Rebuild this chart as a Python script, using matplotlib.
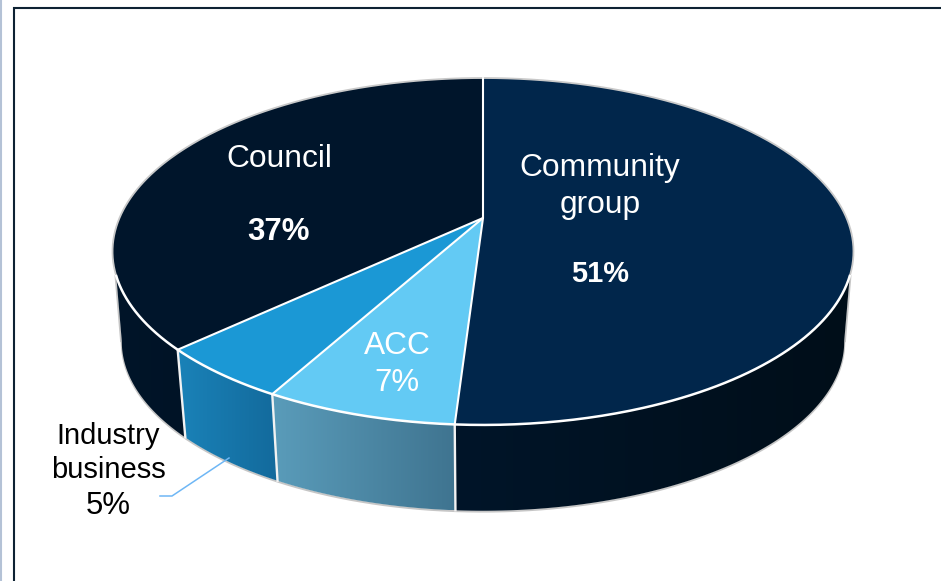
import matplotlib
matplotlib.use("Agg")
import matplotlib.pyplot as plt
from matplotlib.colors import to_rgb
from matplotlib.patches import Polygon
import numpy as np

plt.rcParams['font.family'] = ['Liberation Sans', 'DejaVu Sans']

categories = ["Community group", "ACC", "Industry business", "Council"]
shares = [51, 7, 5, 37]

top_colors = ["#01264b", "#63caf4", "#1b98d5", "#00152b"]
side_left = ["#001529", "#5a9cba", "#1a82b8", "#001529"]
side_right = ["#000e19", "#3f7490", "#136a9c", "#001326"]

# perspective of the disc, in pixels
CX, CY = 483, 218
RX, RY = 363.5, 167
TILT = 0.193
DROP = 91
SHRINK = 0.975

# where the wall leaves the top rim and meets the lower rim
TOP_FROM, TOP_TO = 109, 251
LOW_FROM, LOW_TO = 101, 259


def rim(deg, lower=False):
    # deg runs clockwise from 12 o'clock
    a = np.radians(deg)
    w = 1 + TILT * np.cos(a)
    x = RX * np.sin(a) / w
    y = -RY * np.cos(a) / w
    if lower:
        return CX + SHRINK * x, CY + DROP + SHRINK * y
    return CX + x, CY + y


def side_gradient(ax, patch, left, right):
    x0, y0 = patch.get_xy().min(axis=0)
    x1, y1 = patch.get_xy().max(axis=0)
    t = np.linspace(0, 1, 128)[:, None]
    rgb = (1 - t) * np.array(to_rgb(left)) + t * np.array(to_rgb(right))
    im = ax.imshow(rgb[None, :, :], extent=(x0, x1, y1, y0), aspect="auto",
                   interpolation="bilinear", zorder=patch.get_zorder())
    im.set_clip_path(patch)


fig = plt.figure(figsize=(9.41, 5.81), dpi=100)
ax = fig.add_axes([0, 0, 1, 1])

edges = np.cumsum([0] + shares) * 3.6

# grey line round the underside
a = np.linspace(LOW_FROM, LOW_TO, 200)
bx, by = rim(a, lower=True)
ax.plot(bx, by + 0.8, color="#c6c6c6", lw=1.5, zorder=1)
for top_deg, low_deg, nudge in ((TOP_FROM, LOW_FROM, 0.8), (TOP_TO, LOW_TO, -0.8)):
    tx, ty = rim(top_deg)
    lx, ly = rim(low_deg, lower=True)
    ax.plot([tx + nudge, lx + nudge], [ty, ly], color="#c6c6c6", lw=1.3, zorder=1)

# side walls first, the top faces cover the rest
for i in range(len(shares)):
    t0, t1 = max(edges[i], TOP_FROM), min(edges[i + 1], TOP_TO)
    l0, l1 = max(edges[i], LOW_FROM), min(edges[i + 1], LOW_TO)
    if t1 <= t0:
        continue
    tx, ty = rim(np.linspace(t0, t1, 160))
    lx, ly = rim(np.linspace(l0, l1, 160), lower=True)
    pts = np.column_stack([np.r_[tx, lx[::-1]], np.r_[ty, ly[::-1]]])
    wall = Polygon(pts, closed=True, fc="none", ec="none", zorder=2)
    ax.add_patch(wall)
    side_gradient(ax, wall, side_left[i], side_right[i])

for deg in edges[1:4]:
    tx, ty = rim(deg)
    lx, ly = rim(deg, lower=True)
    ax.plot([tx, lx], [ty, ly], color="#f2f2f2", lw=1.7, zorder=3)

for i in range(len(shares)):
    a = np.linspace(edges[i], edges[i + 1], 200)
    tx, ty = rim(a)
    pts = np.column_stack([np.r_[CX, tx], np.r_[CY, ty]])
    ax.add_patch(Polygon(pts, closed=True, fc=top_colors[i], ec="none", zorder=4))

# back of the rim is grey, front is white
a = np.linspace(TOP_TO - 360, TOP_FROM, 300)
tx, ty = rim(a)
ax.plot(tx, ty, color="#c9c9c9", lw=1.3, zorder=5)
a = np.linspace(TOP_FROM, TOP_TO, 300)
tx, ty = rim(a)
ax.plot(tx, ty, color="white", lw=1.8, zorder=5)

for deg in edges[:4]:
    tx, ty = rim(deg)
    ax.plot([CX, tx], [CY, ty], color="white", lw=1.5, zorder=6,
            solid_capstyle="round")

# frame
ax.plot([14, 14, 941], [581, 8, 8], color="#0e2233", lw=1.5, zorder=7,
        solid_joinstyle="miter")
ax.plot([0.5, 0.5], [0, 581], color="#b4c2d6", lw=1.5, zorder=7)

# leader for the small slice
ax.plot([229, 172, 160], [458, 496, 496], color="#6fb7f5", lw=1.1, zorder=7)

ax.text(279, 159, categories[3], color="white", fontsize=22.9,
        ha="center", va="center", zorder=8)
ax.text(279, 232, f"{shares[3]}%", color="white", fontsize=22.5,
        fontweight="bold", ha="center", va="center", zorder=8)
ax.text(600, 168, "Community", color="white", fontsize=22.9,
        ha="center", va="center", zorder=8)
ax.text(600, 205, "group", color="white", fontsize=22.9,
        ha="center", va="center", zorder=8)
ax.text(600, 274, f"{shares[0]}%", color="white", fontsize=20.9,
        fontweight="bold", ha="center", va="center", zorder=8)
ax.text(397, 346, categories[1], color="white", fontsize=22.9,
        ha="center", va="center", zorder=8)
ax.text(397, 383, f"{shares[1]}%", color="white", fontsize=22.4,
        ha="center", va="center", zorder=8)
ax.text(108, 436, "Industry", color="black", fontsize=21,
        ha="center", va="center", zorder=8)
ax.text(108, 470, "business", color="black", fontsize=21,
        ha="center", va="center", zorder=8)
ax.text(108, 506, f"{shares[2]}%", color="black", fontsize=22.4,
        ha="center", va="center", zorder=8)

ax.set_xlim(0, 941)
ax.set_ylim(581, 0)
ax.axis("off")

fig.savefig("out.png", dpi=100)
